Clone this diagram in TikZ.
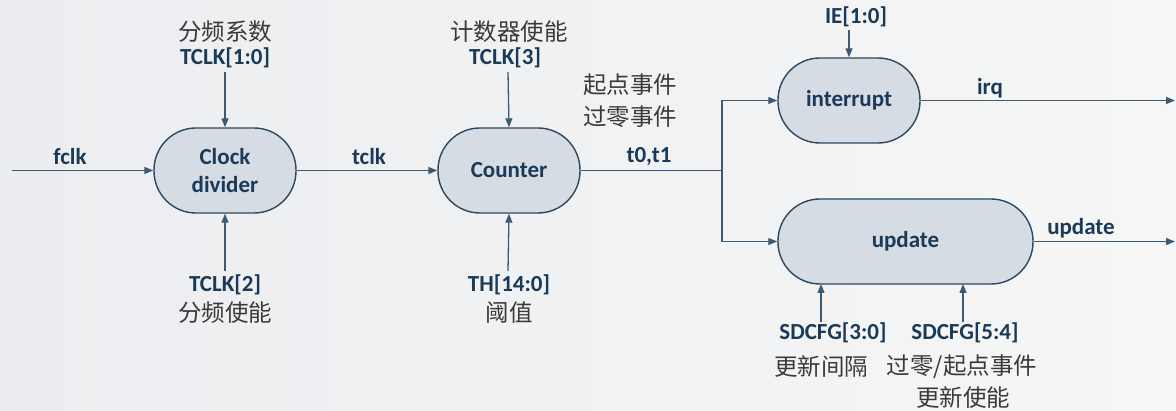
\documentclass[tikz,border=0pt]{standalone}
\usepackage{fontspec}
\setmainfont{Carlito}
\newfontfamily\cjk{Noto Sans CJK SC}
\usetikzlibrary{arrows.meta}
\definecolor{bgA}{HTML}{EBEDF0}
\definecolor{bgB}{HTML}{F6F6F6}
\definecolor{boxfill}{HTML}{D5DCE4}
\definecolor{boxline}{HTML}{2B4861}
\definecolor{wire}{HTML}{3D5A73}
\definecolor{lbl}{HTML}{1B3A57}
\definecolor{cjkc}{HTML}{3A3A3A}
\tikzset{
  blk/.style={draw=boxline, fill=boxfill, line width=1.4pt, rounded corners=42pt,
    minimum height=85pt, minimum width=142pt, inner sep=0pt, align=center,
    text=lbl, font=\fontsize{23}{28}\selectfont\bfseries},
  sig/.style={text=lbl, inner sep=1pt, font=\fontsize{23}{26}\selectfont\bfseries},
  zh/.style={text=cjkc, inner sep=1pt, font=\fontsize{23.5}{26}\selectfont\cjk},
  wirestyle/.style={draw=wire, line width=1.3pt},
  arr/.style={wirestyle, -{Triangle[length=9pt,width=7pt]}},
}
\begin{document}
\begin{tikzpicture}[x=1pt,y=-1pt]
\shade[left color=bgA, right color=bgB] (0,0) rectangle (1176,411);
\useasboundingbox (0,0) rectangle (1176,411);

% blocks
\node[blk] (cd) at (225,170.5) {Clock\\divider};
\node[blk] (cnt) at (509,170.5) {Counter};
\node[blk] (intr) at (849,100.5) {interrupt};
\node[blk, minimum width=255pt] (upd) at (905.5,241.5) {update};

% free ends
\coordinate (fin) at (12,170.5);
\coordinate (j) at (722,170.5);
\coordinate (irqout) at (1175,100.5);
\coordinate (updout) at (1175,241.5);

% top / bottom labels of clock divider
\node[zh] (cdz1) at (225,32) {分频系数};
\node[sig] (cdt) at (225,58) {TCLK[1:0]};
\node[sig] (cdb) at (225,285) {TCLK[2]};
\node[zh] (cdz2) at (225,313) {分频使能};

% counter labels
\node[zh] (cnz1) at (509,32) {计数器使能};
\node[sig] (cnt3) at (505,58) {TCLK[3]};
\node[sig] (cnb) at (509,285) {TH[14:0]};
\node[zh] (cnz2) at (509,313) {阈值};

% interrupt labels
\node[sig] (ie) at (856,17) {IE[1:0]};

% update labels
\node[sig] (sd1) at (833,333) {SDCFG[3:0]};
\node[sig] (sd2) at (965,333) {SDCFG[5:4]};
\node[zh] (sdz1) at (821,367) {更新间隔};
\node[zh] (sdz2) at (962,367) {过零/起点事件};
\node[zh] (sdz3) at (963,398) {更新使能};

% wire labels
\node[sig] (lfclk) at (70,157) {fclk};
\node[sig] (ltclk) at (369,157) {tclk};
\node[sig] (lt01) at (649,157) {t0,t1};
\node[zh] (ev1) at (630,85) {起点事件};
\node[zh] (ev2) at (630,117) {过零事件};
\node[sig] (lirq) at (990,88) {irq};
\node[sig] (lupd) at (1081,228) {update};

% connectors
\draw[arr] (fin) -- (cd.west);
\draw[arr] (cd.east) -- (cnt.west);
\draw[wirestyle] (cnt.east) -- (j);
\draw[arr] (j) |- (intr.west);
\draw[arr] (j) |- (upd.west);
\draw[arr] (intr.east) -- (irqout);
\draw[arr] (upd.east) -- (updout);

\draw[arr] (225,72) -- (cd.north);
\draw[arr] (225,271) -- (cd.south);
\draw[arr] (508,72) -- (cnt.north);
\draw[arr] (508,271) -- (cnt.south);
\draw[arr] (849,30) -- (intr.north);
\draw[arr] (821,322) -- (821,284);
\draw[arr] (963,322) -- (963,284);
\end{tikzpicture}
\end{document}
